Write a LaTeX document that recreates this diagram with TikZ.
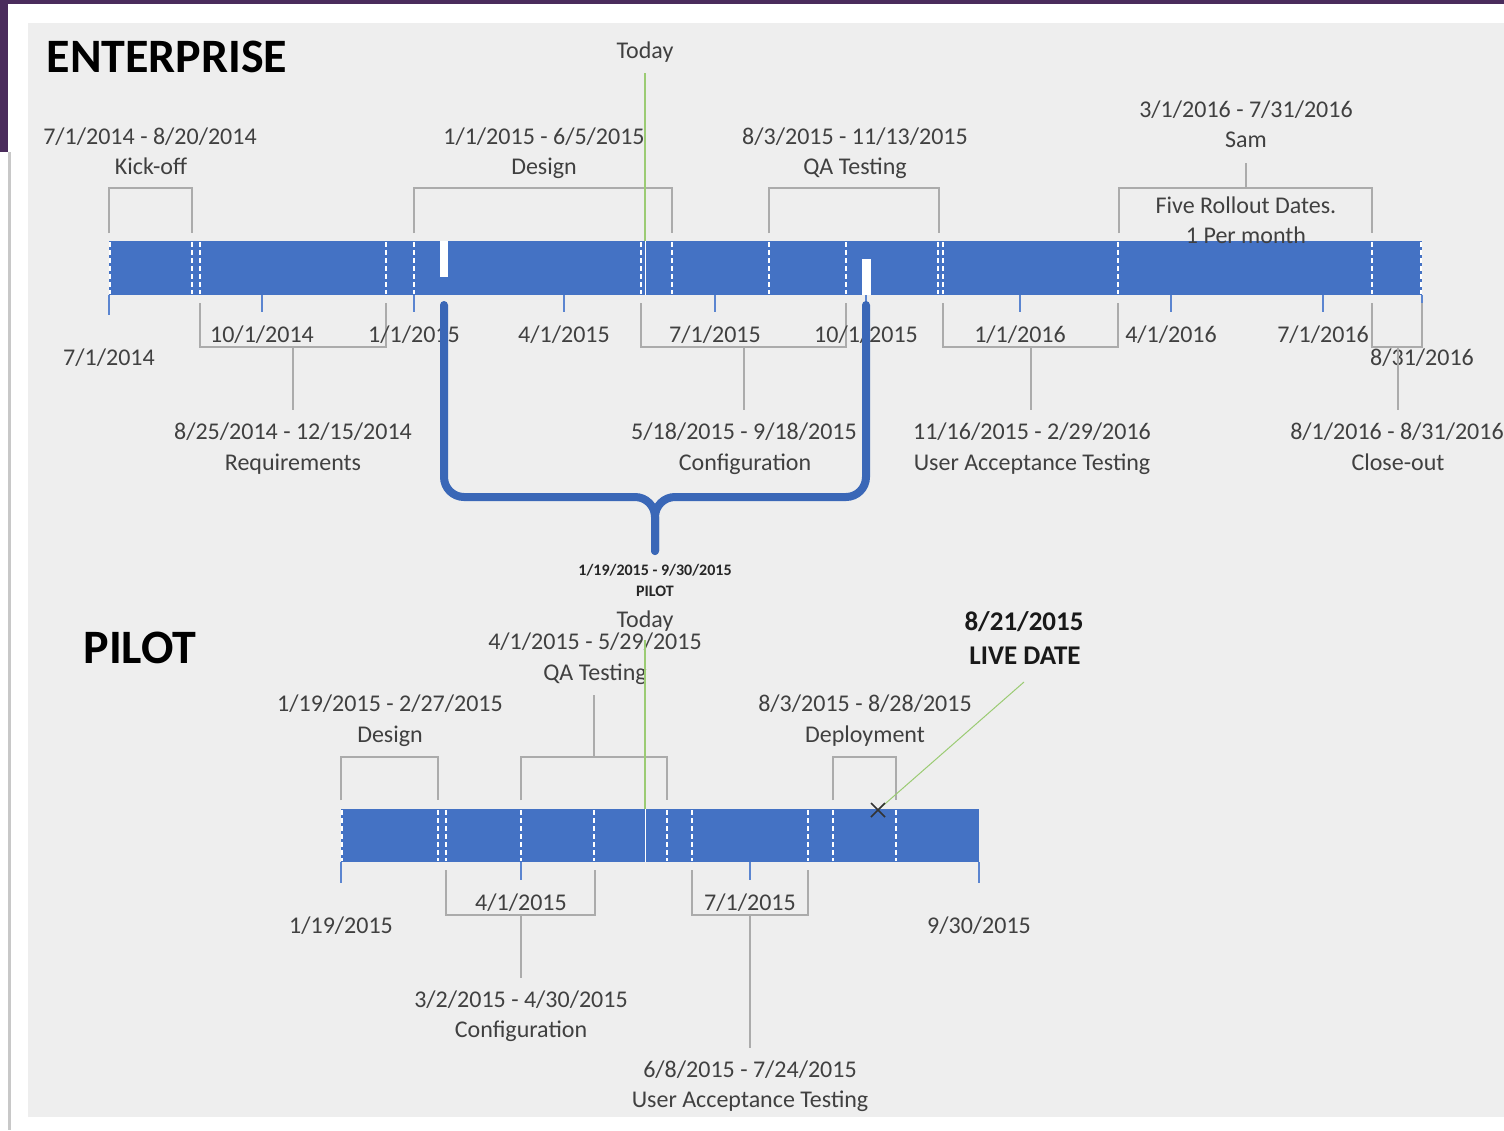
\documentclass[tikz,border=0pt]{standalone}
\usepackage{fontspec}
\setmainfont{Carlito}
\usetikzlibrary{calc}
\definecolor{framepurple}{HTML}{4A2C5C}
\definecolor{panelgray}{HTML}{EEEEEE}
\definecolor{edgegray}{HTML}{C8C8C8}
\definecolor{barblue}{HTML}{4472C4}
\definecolor{braceblue}{HTML}{3A67B7}
\definecolor{tickblue}{HTML}{5B85D0}
\definecolor{brkgray}{HTML}{ABABAB}
\definecolor{txtgray}{HTML}{404040}
\definecolor{todaygreen}{HTML}{9BCB73}
\begin{document}
\begin{tikzpicture}[x=1pt,y=-1pt,
  lbl/.style={font=\fontsize{24}{28}\selectfont, text=txtgray, inner sep=0pt, text height=15.5pt, text depth=0pt},
  ttl/.style={font=\fontsize{48}{56}\selectfont\bfseries, text=black, inner sep=0pt, text height=31pt, text depth=0pt},
  live/.style={font=\fontsize{27}{32}\selectfont\bfseries, text=black!90, inner sep=0pt, text height=17.4pt, text depth=0pt},
  tiny/.style={font=\fontsize{16}{19}\selectfont\bfseries, text=black!85, inner sep=0pt, text height=10.3pt, text depth=0pt},
  bar/.style={fill=barblue},
  sep/.style={white, line width=1.8pt, dash pattern=on 5pt off 3pt},
  tick/.style={tickblue, line width=1.6pt},
  brk/.style={brkgray, line width=1.5pt},
  today/.style={todaygreen, line width=1.3pt},
  brace/.style={braceblue, line width=8pt, line cap=round, rounded corners=20pt}
]
\useasboundingbox (0,0) rectangle (1504,1130);
% page frame and panel
\fill[white] (0,0) rectangle (1504,1130);
\fill[framepurple] (0,0) rectangle (1504,4);
\fill[framepurple] (0,0) rectangle (8,152);
\fill[edgegray] (8,152) rectangle (11,1130);
\fill[panelgray] (28,23) rectangle (1504,1117);

% ================= ENTERPRISE =================
\node[ttl] (enttitle) at (167,57) {ENTERPRISE};

\fill[bar] (109,241) rectangle (1422,295);
\foreach \x in {110,192,200,386,414,641,672,769,846,938,943,1118,1372,1421}
  \draw[sep] (\x,242) -- (\x,294);
\draw[white, line width=1pt] (645,241) -- (645,295);
\fill[white] (440,241) rectangle (448,277);
\fill[white] (862,259) rectangle (871,295);

% month ticks
\foreach \x in {262,414,564,715,866,1020,1171,1323,1422}
  \draw[tick] (\x,295) -- (\x,312);
\draw[tick] (109,295) -- (109,315);

% brackets above
\draw[brk] (109,233) -- (109,188) -- (192,188) -- (192,233);
\draw[brk] (414,233) -- (414,188) -- (672,188) -- (672,233);
\draw[brk] (769,233) -- (769,188) -- (939,188) -- (939,233);
\draw[brk] (1119,233) -- (1119,188) -- (1372,188) -- (1372,233);
% brackets below
\draw[brk] (200,303) -- (200,347) -- (386,347) -- (386,303);
\draw[brk] (641,303) -- (641,347) -- (846,347) -- (846,303);
\draw[brk] (943,303) -- (943,347) -- (1118,347) -- (1118,303);
\draw[brk] (1372,303) -- (1372,347) -- (1422,347) -- (1422,303);

% labels above
\node[lbl] (kodate) at (150,137) {7/1/2014 - 8/20/2014};
\node[lbl] (koname) at (151,167) {Kick-off};
\node[lbl] (dsdate) at (544,137) {1/1/2015 - 6/5/2015};
\node[lbl] (dsname) at (544,167) {Design};
\node[lbl] (qadate) at (855,137) {8/3/2015 - 11/13/2015};
\node[lbl] (qaname) at (855,167) {QA Testing};
\node[lbl] (samdate) at (1246,110) {3/1/2016 - 7/31/2016};
\node[lbl] (samname) at (1246,140) {Sam};
\node[lbl] (roll1) at (1246,206) {Five Rollout Dates.};
\node[lbl] (roll2) at (1246,236) {1 Per month};
\coordinate (sambrk) at (1246,188);
\draw[brk] (sambrk) -- (1246,163);

% tick labels
\node[lbl] (t1) at (109,358) {7/1/2014};
\node[lbl] (t2) at (262,335) {10/1/2014};
\node[lbl] (t3) at (414,335) {1/1/2015};
\node[lbl] (t4) at (564,335) {4/1/2015};
\node[lbl] (t5) at (715,335) {7/1/2015};
\node[lbl] (t6) at (866,335) {10/1/2015};
\node[lbl] (t7) at (1020,335) {1/1/2016};
\node[lbl] (t8) at (1171,335) {4/1/2016};
\node[lbl] (t9) at (1323,335) {7/1/2016};
\node[lbl] (t10) at (1422,358) {8/31/2016};

% labels below
\node[lbl] (rqdate) at (293,432) {8/25/2014 - 12/15/2014};
\node[lbl] (rqname) at (293,463) {Requirements};
\node[lbl] (cfdate) at (744,432) {5/18/2015 - 9/18/2015};
\node[lbl] (cfname) at (745,463) {Configuration};
\node[lbl] (uadate) at (1032,432) {11/16/2015 - 2/29/2016};
\node[lbl] (uaname) at (1032,463) {User Acceptance Testing};
\node[lbl] (codate) at (1397,432) {8/1/2016 - 8/31/2016};
\node[lbl] (coname) at (1398,463) {Close-out};
\draw[brk] (293,347) -- (293,410);
\draw[brk] (744,347) -- (744,410);
\draw[brk] (1031,347) -- (1031,410);
\draw[brk] (1398,347) -- (1398,410);

% today marker
\node[lbl] (etoday) at (645,51) {Today};
\draw[today] (645,73) -- (645,241);

% pilot brace
\draw[brace] (444,305) -- (444,497) -- (655,497) -- (655,551);
\draw[brace] (866,305) -- (866,497) -- (655,497) -- (655,551);
\node[tiny] (pdates) at (655,570) {1/19/2015 - 9/30/2015};
\node[tiny] (pname) at (655,591) {PILOT};

% ================= PILOT =================
\node[ttl] (piltitle) at (140,648) {PILOT};

\fill[bar] (341,809) rectangle (979,862);
\foreach \x in {342,438,446,521,594,667,692,808,833,896}
  \draw[sep] (\x,810) -- (\x,861);
\draw[white, line width=1pt] (645,809) -- (645,862);

\draw[tick] (341,862) -- (341,883);
\draw[tick] (521,862) -- (521,880);
\draw[tick] (750,862) -- (750,880);
\draw[tick] (979,862) -- (979,883);

% brackets above
\draw[brk] (341,800) -- (341,757) -- (438,757) -- (438,800);
\draw[brk] (521,800) -- (521,757) -- (667,757) -- (667,800);
\draw[brk] (833,800) -- (833,757) -- (896,757) -- (896,800);
\draw[brk] (594,757) -- (594,695);
% brackets below
\draw[brk] (446,870) -- (446,915) -- (595,915) -- (595,870);
\draw[brk] (692,870) -- (692,915) -- (808,915) -- (808,870);
\draw[brk] (521,915) -- (521,978);
\draw[brk] (750,915) -- (750,1048);

% labels
\node[lbl] (pqadate) at (595,642) {4/1/2015 - 5/29/2015};
\node[lbl] (pqaname) at (595,673) {QA Testing};
\node[lbl] (pdsdate) at (390,704) {1/19/2015 - 2/27/2015};
\node[lbl] (pdsname) at (390,735) {Design};
\node[lbl] (pdpdate) at (865,704) {8/3/2015 - 8/28/2015};
\node[lbl] (pdpname) at (865,735) {Deployment};
\node[lbl] (pt1) at (341,926) {1/19/2015};
\node[lbl] (pt2) at (521,903) {4/1/2015};
\node[lbl] (pt3) at (750,903) {7/1/2015};
\node[lbl] (pt4) at (979,926) {9/30/2015};
\node[lbl] (pcfdate) at (521,1000) {3/2/2015 - 4/30/2015};
\node[lbl] (pcfname) at (521,1030) {Configuration};
\node[lbl] (puadate) at (750,1070) {6/8/2015 - 7/24/2015};
\node[lbl] (puaname) at (750,1100) {User Acceptance Testing};

% today and live date
\node[lbl] (ptoday) at (645,620) {Today};
\draw[today] (645,640) -- (645,809);
\node[live] (livedate) at (1024,622) {8/21/2015};
\node[live] (livename) at (1025,656) {LIVE DATE};
\coordinate (livemark) at (878,810);
\draw[today, line width=1pt] (1024,682) -- (livemark);
\draw[black!80, line width=1.5pt] ($(livemark)+(-7,-7)$) -- ($(livemark)+(7,7)$);
\draw[black!80, line width=1.5pt] ($(livemark)+(-7,7)$) -- ($(livemark)+(7,-7)$);
\end{tikzpicture}
\end{document}
